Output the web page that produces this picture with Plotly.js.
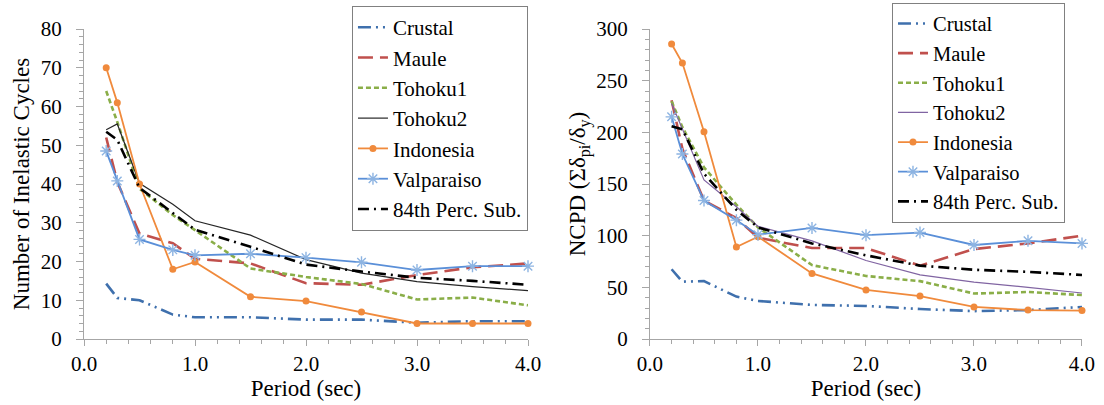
<!DOCTYPE html>
<html>
<head>
<meta charset="utf-8">
<script src="https://cdn.plot.ly/plotly-3.0.1.min.js"></script>
<style>html,body{margin:0;padding:0;background:#fff;}#chart{width:1104px;height:405px;}</style>
</head>
<body>
<div id="chart"></div>
<script>
// Period values (sec)
var periods = [0.2, 0.3, 0.5, 0.8, 1.0, 1.5, 2.0, 2.5, 3.0, 3.5, 4.0];

// Left panel: Number of Inelastic Cycles
var cycCrustal    = [14.3, 10.6, 10.0, 6.3, 5.6, 5.6, 5.0, 5.0, 4.2, 4.6, 4.6];
var cycMaule      = [52, 40.5, 27.2, 24.7, 20.7, 19.5, 14.4, 14.0, 16.5, 18.5, 19.5];
var cycTohoku1    = [64, 56, 38.8, 32, 28.1, 18.2, 16.0, 14.2, 10.2, 10.7, 8.7];
var cycTohoku2    = [54, 55.5, 40.2, 34.8, 30.5, 26.8, 20.5, 17.0, 14.8, 13.5, 12.5];
var cycIndonesia  = [70, 61, 40, 18, 19.9, 10.9, 9.8, 7.0, 4.0, 4.0, 4.0];
var cycValparaiso = [48.5, 40.8, 25.7, 23.0, 21.6, 22.0, 21.0, 19.8, 17.8, 18.8, 18.8];
var cycPerc84     = [53.5, 51.4, 39.0, 32.5, 28.2, 23.8, 19.2, 17.4, 15.8, 15.0, 14.0];

// Right panel: NCPD
var ncpdCrustal    = [67.5, 55.5, 56, 41, 36.8, 33, 32, 29, 27, 28, 31];
var ncpdMaule      = [231, 184, 134, 117, 98, 88, 88, 71, 87, 92.5, 100];
var ncpdTohoku1    = [230, 205, 166, 130, 108, 71.5, 61, 56, 44, 45.5, 42.5];
var ncpdTohoku2    = [228, 203, 154, 128, 109, 95, 76, 62, 55, 50, 44.5];
var ncpdIndonesia  = [285.5, 267, 200.5, 89, 99, 63.5, 47.5, 41.5, 31, 28, 27.5];
var ncpdValparaiso = [215, 179, 134, 115, 101, 107.5, 100.5, 103, 91, 95, 92.5];
var ncpdPerc84     = [206, 203, 160, 125, 108, 92.5, 81, 71, 67, 65, 62];

var seriesNames = ['Crustal', 'Maule', 'Tohoku1', 'Tohoku2', 'Indonesia', 'Valparaiso', '84th Perc. Sub.'];

var FONT = "'Liberation Serif', 'Times New Roman', serif";

function styles(tohoku2Color) {
  return [
    {line: {color: '#3F70AD', width: 2.6, dash: '13px,5px,2px,5px,2px,5px'}, mode: 'lines'},
    {line: {color: '#C0504D', width: 2.6, dash: '15px,7px'}, mode: 'lines'},
    {line: {color: '#8AAE48', width: 2.6, dash: '5px,3px'}, mode: 'lines'},
    {line: {color: tohoku2Color, width: 1.2}, mode: 'lines'},
    {line: {color: '#F08A3C', width: 1.8}, mode: 'lines+markers', marker: {symbol: 'circle', size: 7, color: '#F08A3C'}},
    {line: {color: '#5A8FD8', width: 1.8}, mode: 'lines+markers', marker: {symbol: 'asterisk-open', size: 10, line: {color: '#8DB4E2', width: 1.4}, color: '#8DB4E2'}},
    {line: {color: '#000000', width: 2.6, dash: '11px,5px,2px,5px'}, mode: 'lines'}
  ];
}

var leftData = [cycCrustal, cycMaule, cycTohoku1, cycTohoku2, cycIndonesia, cycValparaiso, cycPerc84];
var rightData = [ncpdCrustal, ncpdMaule, ncpdTohoku1, ncpdTohoku2, ncpdIndonesia, ncpdValparaiso, ncpdPerc84];

var traces = [];
var ls = styles('#262626');
var rs = styles('#8064A2');
leftData.forEach(function (ys, i) {
  var t = {x: periods, y: ys, name: seriesNames[i], type: 'scatter', xaxis: 'x', yaxis: 'y',
           legend: 'legend', cliponaxis: false, mode: ls[i].mode, line: ls[i].line};
  if (ls[i].marker) t.marker = ls[i].marker;
  traces.push(t);
});
rightData.forEach(function (ys, i) {
  var t = {x: periods, y: ys, name: seriesNames[i], type: 'scatter', xaxis: 'x2', yaxis: 'y2',
           legend: 'legend2', cliponaxis: false, mode: rs[i].mode, line: rs[i].line};
  if (rs[i].marker) t.marker = rs[i].marker;
  traces.push(t);
});

var AX = '#A6A6A6';
function xax(domain, anchor) {
  return {
    domain: domain, anchor: anchor, range: [0, 4], dtick: 1, tick0: 0, tickformat: '.1f',
    showline: true, linecolor: AX, linewidth: 1, ticks: 'outside', ticklen: 6, tickcolor: AX,
    minor: {dtick: 0.2, ticks: 'outside', ticklen: 4, tickcolor: AX},
    showgrid: false, zeroline: false, ticklabelstandoff: 0,
    tickfont: {family: FONT, size: 21, color: '#000'},
    title: {text: 'Period (sec)', font: {family: FONT, size: 23, color: '#000'}, standoff: 3}
  };
}
function yax(domain, anchor, range, dt, mdt, title) {
  return {
    domain: domain, anchor: anchor, range: range, dtick: dt, tick0: 0,
    showline: true, linecolor: AX, linewidth: 1, ticks: 'outside', ticklen: 7, tickcolor: AX,
    minor: {dtick: mdt, ticks: 'outside', ticklen: 4, tickcolor: AX},
    showgrid: false, zeroline: false, ticklabelstandoff: 10,
    tickfont: {family: FONT, size: 21, color: '#000'},
    title: {text: title, font: {family: FONT, size: 23, color: '#000'}, standoff: 4}
  };
}

function leg(x, y, fs) {
  return {x: x, xanchor: 'left', y: y, yanchor: 'top', bgcolor: '#fff',
          bordercolor: '#808080', borderwidth: 1, font: {family: FONT, size: fs, color: '#000'},
          tracegroupgap: 0, itemwidth: 30, maxheight: 400};
}

var layout = {
  width: 1104, height: 405,
  margin: {l: 84, r: 22, t: 29, b: 66, autoexpand: false},
  paper_bgcolor: '#fff', plot_bgcolor: '#fff',
  showlegend: true,
  xaxis: xax([0, 0.44489], 'y'),
  yaxis: yax([0, 1], 'x', [0, 80], 10, 2, 'Number of Inelastic Cycles'),
  xaxis2: xax([0.56713, 1], 'y2'),
  yaxis2: yax([0, 1], 'x2', [0, 300], 50, 10, 'NCPD (Σδ<sub>pi</sub>/δ<sub>y</sub>)'),
  legend: leg(0.2685, 1.074, 21),
  legend2: leg(0.8096, 1.085, 20.5)
};

Plotly.newPlot('chart', traces, layout, {staticPlot: true, displayModeBar: false});
</script>
</body>
</html>
